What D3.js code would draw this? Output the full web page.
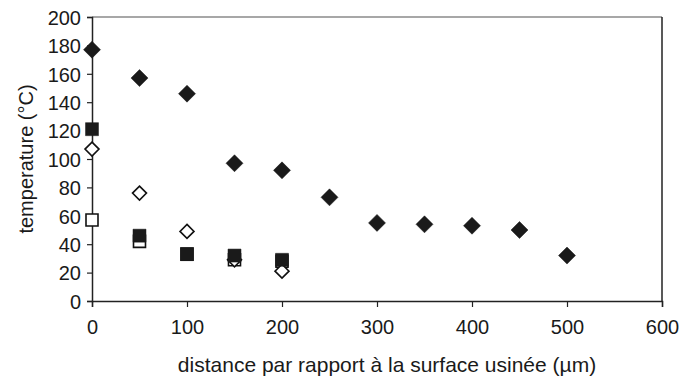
<!DOCTYPE html>
<html>
<head>
<meta charset="utf-8">
<script src="https://cdn.jsdelivr.net/npm/d3@7"></script>
<style>
  html, body { margin: 0; padding: 0; background: #fff; }
  svg { display: block; font-family: "Liberation Sans", Arial, sans-serif; }
</style>
</head>
<body>
<svg id="chart" width="696" height="383"></svg>
<script>
// Temperature profiles versus depth below the machined surface
const xTicks = [0, 100, 200, 300, 400, 500, 600];
const yTicks = [0, 20, 40, 60, 80, 100, 120, 140, 160, 180, 200];

const distFull = [0, 50, 100, 150, 200, 250, 300, 350, 400, 450, 500];
const tempFilledDiamond = [177, 157, 146, 97, 92, 73, 55, 54, 53, 50, 32];

const distShort = [0, 50, 100, 150, 200];
const tempFilledSquare = [121, 46, 33, 32, 29];
const tempOpenDiamond = [107, 76, 49, 29, 21];
const tempOpenSquare = [57, 42, 33, 29, 28];

const margin = { left: 92, right: 34, top: 17, bottom: 82 };
const W = 696, H = 383;
const svg = d3.select("#chart");

const x = d3.scaleLinear().domain([0, 600]).range([margin.left, W - margin.right]);
const y = d3.scaleLinear().domain([0, 200]).range([H - margin.bottom, margin.top]);

// plot frame: top and right edges
svg.append("line")
  .attr("x1", x(0)).attr("x2", x(600)).attr("y1", y(200)).attr("y2", y(200))
  .attr("stroke", "#8a8a8a").attr("stroke-width", 1.5);
svg.append("line")
  .attr("x1", x(600)).attr("x2", x(600)).attr("y1", y(200)).attr("y2", y(0))
  .attr("stroke", "#222").attr("stroke-width", 1.5);

// axes
const xAxis = svg.append("g")
  .attr("transform", `translate(0,${y(0)})`)
  .call(d3.axisBottom(x).tickValues(xTicks).tickSize(6).tickPadding(13).tickFormat(d3.format("d")));
const yAxis = svg.append("g")
  .attr("transform", `translate(${x(0)},0)`)
  .call(d3.axisLeft(y).tickValues(yTicks).tickSize(5).tickPadding(6).tickFormat(d3.format("d")));

[xAxis, yAxis].forEach(g => {
  g.select(".domain").attr("stroke", "#222").attr("stroke-width", 1.5);
  g.selectAll(".tick line").attr("stroke", "#222").attr("stroke-width", 1.2);
  g.selectAll(".tick text").attr("fill", "#1a1a1a").style("font-size", "20px")
    .style("font-family", "'Liberation Sans', Arial, sans-serif");
});
yAxis.selectAll(".tick text").attr("dy", "0.36em");

// axis titles
svg.append("text")
  .attr("x", (x(0) + x(600)) / 2 + 10).attr("y", 372)
  .attr("text-anchor", "middle").attr("fill", "#1a1a1a").style("font-size", "21px")
  .text("distance par rapport à la surface usinée (µm)");
svg.append("text")
  .attr("transform", `translate(33,${(y(0) + y(200)) / 2}) rotate(-90)`)
  .attr("text-anchor", "middle").attr("fill", "#1a1a1a").style("font-size", "20px")
  .text("temperature (°C)");

// marker symbols
const diamond = (s) => `M0,${-s}L${s},0L0,${s}L${-s},0Z`;
const square = (s) => `M${-s},${-s}H${s}V${s}H${-s}Z`;

function drawSeries(xs, ys, path, fill, stroke, sw) {
  svg.append("g").selectAll("path")
    .data(xs.map((d, i) => [d, ys[i]]))
    .join("path")
    .attr("transform", d => `translate(${x(d[0])},${y(d[1])})`)
    .attr("d", path)
    .attr("fill", fill)
    .attr("stroke", stroke)
    .attr("stroke-width", sw);
}

drawSeries(distShort, tempOpenSquare, square(6), "#fff", "#111", 1.6);
drawSeries(distShort, tempOpenDiamond, diamond(7), "#fff", "#111", 1.6);
drawSeries(distShort, tempFilledSquare, square(6.5), "#1a1a1a", "#1a1a1a", 0.5);
drawSeries(distFull, tempFilledDiamond, diamond(8.5), "#1a1a1a", "#1a1a1a", 0.5);
</script>
</body>
</html>
